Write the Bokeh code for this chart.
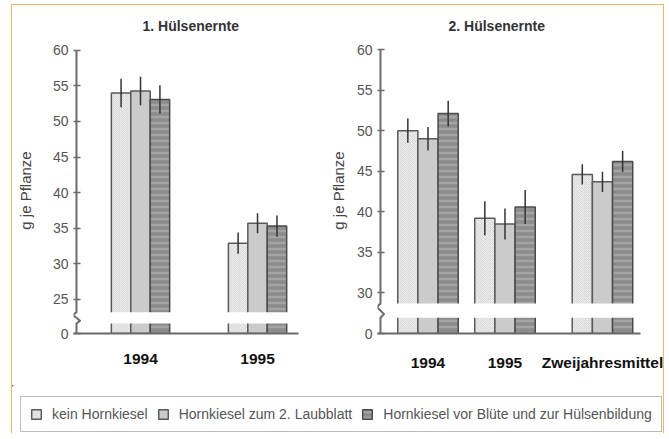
import numpy as np
from bokeh.plotting import figure
from bokeh.models import (Range1d, FixedTicker, CustomJSTickFormatter, LinearAxis,
                          Legend, LegendItem, Title)
from bokeh.layouts import row, column
from bokeh.embed import file_html
from bokeh.resources import INLINE

# ---------------- data ----------------
TITLE_L = "1. Hülsenernte"
TITLE_R = "2. Hülsenernte"
Y_LABEL = "g je Pflanze"
SERIES = ["kein Hornkiesel", "Hornkiesel zum 2. Laubblatt",
          "Hornkiesel vor Blüte und zur Hülsenbildung"]

GROUPS_L = ["1994", "1995"]
KEIN_L = [54.0, 32.9]
ZUM2_L = [54.3, 35.7]
VOR_L = [53.1, 35.3]
KEIN_L_ERR = [2.0, 1.5]
ZUM2_L_ERR = [2.0, 1.4]
VOR_L_ERR = [2.0, 1.5]

GROUPS_R = ["1994", "1995", "Zweijahresmittel"]
KEIN_R = [50.0, 39.2, 44.6]
ZUM2_R = [49.0, 38.5, 43.7]
VOR_R = [52.1, 40.6, 46.2]
KEIN_R_ERR = [1.5, 2.1, 1.25]
ZUM2_R_ERR = [1.45, 1.9, 1.25]
VOR_R_ERR = [1.6, 2.1, 1.3]

YTICKS_L = [0, 25, 30, 35, 40, 45, 50, 55, 60]
YTICKS_R = [0, 30, 35, 40, 45, 50, 55, 60]

# ---------------- layout / style constants ----------------
FONT = "Liberation Sans"
AXIS_C = "#6a6a6a"
TICK_C = "#6a6a6a"
ORANGE = "#f7b84f"
GPOS_L = [0, 1]
GPOS_R = [0, 1, 2.266]

STYLES = [
    dict(fill_color="#e9e9e9", hatch_pattern="diagonal_cross", hatch_color="#cfcfcf",
         hatch_scale=4, hatch_weight=0.6, line_color="#5a5a5a", line_width=1.5),
    dict(fill_color="#cbcbcb", line_color="#5a5a5a", line_width=1.5),
    dict(fill_color="#8c8c8c", hatch_pattern="horizontal_line", hatch_color="#a4a4a4",
         hatch_scale=6, hatch_weight=2.5, line_color="#4a4a4a", line_width=1.5),
]

FMT_CODE = "const i = vals.indexOf(tick); return i < 0 ? '' : labels[i];"


def build_panel(title, groups, gpos, vals, errs, yticks, base, gap, yr, xr, ax, bw,
                px_per_unit, width, mbl, mbr, title_offset, label_standoff):
    p = figure(width=width, height=380, x_range=Range1d(*xr), y_range=Range1d(*yr),
               x_axis_type=None, y_axis_type=None, output_backend="svg",
               toolbar_location=None, min_border_left=mbl, min_border_right=mbr,
               min_border_top=41, min_border_bottom=52)
    p.outline_line_color = None
    p.background_fill_color = "white"
    p.border_fill_color = "white"
    gpos = np.asarray(gpos, dtype=float)

    for k, (v, st) in enumerate(zip(vals, STYLES)):
        p.vbar(x=gpos + (k - 1) * bw, width=bw, bottom=base, top=v, **st)

    # white band of the axis break
    p.quad(left=[xr[0]], right=[xr[1]], bottom=[gap[0]], top=[gap[1]],
           fill_color="white", line_color=None)

    for k, (v, e) in enumerate(zip(vals, errs)):
        v = np.asarray(v)
        e = np.asarray(e)
        x = gpos + (k - 1) * bw
        p.segment(x0=x, y0=v - e, x1=x, y1=v + e, line_color="#333333", line_width=1.5)

    # y axis line with break zigzag
    d = 3.5 / px_per_unit
    q = 0.25 * (gap[1] - gap[0])
    p.line(x=[ax, ax, ax - d, ax + d, ax, ax],
           y=[yticks[-1], gap[1], gap[1] - q, gap[0] + q, gap[0], base],
           line_color=AXIS_C, line_width=2, line_join="round")

    ytick_pos = [base if t == 0 else float(t) for t in yticks]
    yaxis = LinearAxis(
        ticker=FixedTicker(ticks=ytick_pos),
        formatter=CustomJSTickFormatter(args=dict(vals=ytick_pos,
                                                  labels=[str(t) for t in yticks]),
                                        code=FMT_CODE),
        axis_label=Y_LABEL, axis_label_standoff=label_standoff,
        axis_label_text_font=FONT, axis_label_text_font_size="15px",
        axis_label_text_font_style="normal", axis_label_text_color="#444444",
        axis_line_color=None, major_tick_in=7, major_tick_out=0,
        major_tick_line_color=TICK_C, major_tick_line_width=1.5,
        minor_tick_line_color=None, major_label_standoff=5,
        major_label_text_font=FONT, major_label_text_font_size="14px",
        major_label_text_color="#555555")
    p.add_layout(yaxis, "left")

    xaxis = LinearAxis(
        ticker=FixedTicker(ticks=list(gpos)),
        formatter=CustomJSTickFormatter(args=dict(vals=list(gpos), labels=groups),
                                        code=FMT_CODE),
        axis_line_color=AXIS_C, axis_line_width=2,
        major_tick_line_color=None, minor_tick_line_color=None,
        major_tick_in=0, major_tick_out=0, major_label_standoff=20,
        major_label_text_font=FONT, major_label_text_font_size="15.5px",
        major_label_text_font_style="bold", major_label_text_color="#111111")
    p.add_layout(xaxis, "below")

    p.add_layout(Title(text=title, align="left", offset=title_offset, text_font=FONT,
                       text_font_size="14px", text_font_style="bold",
                       text_color="#333333", standoff=24, vertical_align="top"),
                 "above")
    return p


pL = build_panel(TITLE_L, GROUPS_L, GPOS_L,
                 [KEIN_L, ZUM2_L, VOR_L], [KEIN_L_ERR, ZUM2_L_ERR, VOR_L_ERR],
                 YTICKS_L, base=20.2, gap=(21.6, 23.2), yr=(20.2, 60.4),
                 xr=(-0.5726, 1.350), ax=-0.547, bw=0.166, px_per_unit=117.0,
                 width=299, mbl=61, mbr=13, title_offset=69, label_standoff=16)

pR = build_panel(TITLE_R, GROUPS_R, GPOS_R,
                 [KEIN_R, ZUM2_R, VOR_R], [KEIN_R_ERR, ZUM2_R_ERR, VOR_R_ERR],
                 YTICKS_R, base=25.0, gap=(26.95, 28.7), yr=(25.0, 60.25),
                 xr=(-0.656, 2.760), ax=-0.617, bw=0.262, px_per_unit=77.0,
                 width=352, mbl=66, mbr=23, title_offset=71, label_standoff=7)

# legend figure (its bars lie outside the visible ranges; only the legend shows)
pLeg = figure(width=651, height=48, x_range=Range1d(10, 11), y_range=Range1d(-10, -9),
              x_axis_type=None, y_axis_type=None, output_backend="svg",
              toolbar_location=None, min_border=0)
pLeg.outline_line_color = None
pLeg.background_fill_color = "white"
pLeg.border_fill_color = "white"
items = []
for name, vals, st in zip(SERIES, [KEIN_L, ZUM2_L, VOR_L], STYLES):
    r = pLeg.vbar(x=GPOS_L, top=vals, width=0.1, **st)
    items.append(LegendItem(label=name, renderers=[r]))
leg = Legend(items=items, orientation="horizontal", location=(8, 1),
             padding=9, spacing=9, label_standoff=10, glyph_width=12, glyph_height=12,
             label_text_font=FONT, label_text_font_size="14px",
             label_text_color="#555555", border_line_color="#777777",
             border_line_width=1.5, background_fill_color="white",
             background_fill_alpha=1.0, margin=0)
pLeg.add_layout(leg)

layout = column(row(pL, pR), pLeg,
                styles={"border-top": f"1px solid {ORANGE}",
                        "border-left": f"1px solid {ORANGE}",
                        "border-right": f"1px solid {ORANGE}",
                        "margin-left": "11px", "margin-top": "4px"})

open("out.html", "w").write(file_html(layout, INLINE))
